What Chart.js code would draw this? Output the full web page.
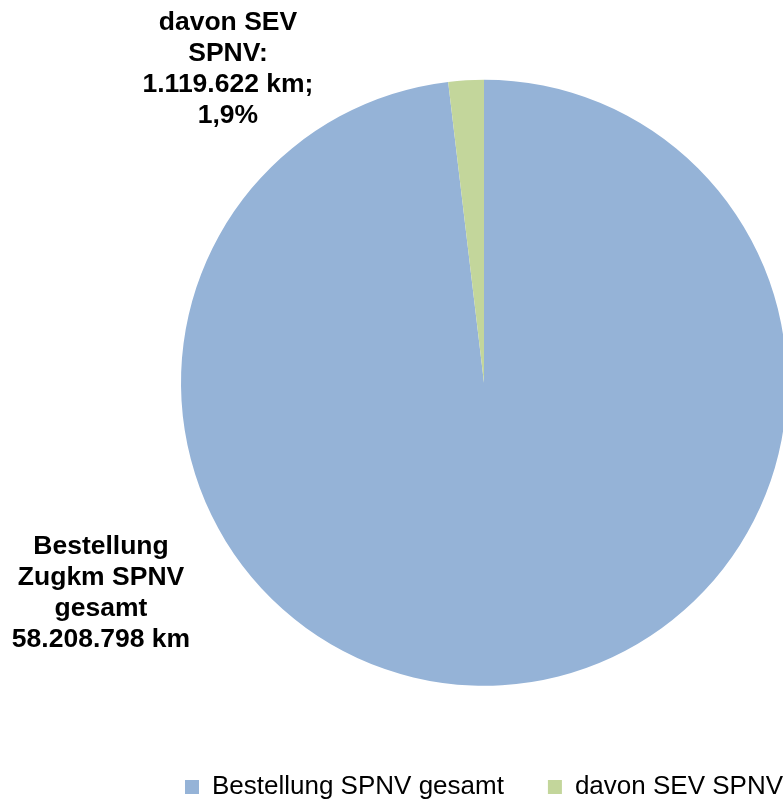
<!DOCTYPE html>
<html>
<head>
<meta charset="utf-8">
<title>Zugkm SPNV</title>
<style>
  html, body { margin: 0; padding: 0; background: #fff; overflow: hidden; }
  #wrap { width: 968px; height: 810px; position: relative; }
</style>
</head>
<body>
<div id="wrap"><canvas id="myChart"></canvas></div>

<script src="https://cdn.jsdelivr.net/npm/chart.js"></script>
<script>
const categories = ['Bestellung SPNV gesamt', 'davon SEV SPNV'];
const labelTitles = [['Bestellung', 'Zugkm SPNV', 'gesamt'], ['davon SEV', 'SPNV:']];
const values = [58208798, 1119622];
const showPercent = [false, true];
const colors = ['#95b3d7', '#c3d69b'];

// where the slice labels sit, relative to the pie centre in units of radius
const labelOffsets = [
    { dx: -1.264, dy: 0.693 },
    { dx: -0.845, dy: -1.036 }
];

const total = values.reduce((a, b) => a + b, 0);

function labelLines(i) {
    const km = values[i].toLocaleString('de-DE') + ' km';
    if (showPercent[i]) {
        const pct = (values[i] / total * 100).toLocaleString('de-DE', { minimumFractionDigits: 1, maximumFractionDigits: 1 }) + '%';
        return [...labelTitles[i], km + ';', pct];
    }
    return [...labelTitles[i], km];
}

const sliceLabels = {
    id: 'sliceLabels',
    afterDatasetsDraw(chart) {
        const ctx = chart.ctx;
        const meta = chart.getDatasetMeta(0);
        ctx.save();
        ctx.font = 'bold 26.5px "Liberation Sans", Arial, sans-serif';
        ctx.fillStyle = '#000';
        ctx.textAlign = 'center';
        ctx.textBaseline = 'middle';
        meta.data.forEach((arc, i) => {
            const { x, y, outerRadius } = arc.getProps(['x', 'y', 'outerRadius'], true);
            const cx = x + labelOffsets[i].dx * outerRadius;
            const cy = y + labelOffsets[i].dy * outerRadius;
            const lines = labelLines(i);
            const lh = 31;
            const y0 = cy - (lines.length - 1) * lh / 2;
            lines.forEach((line, j) => ctx.fillText(line, cx, y0 + j * lh));
        });
        ctx.restore();
    }
};

new Chart(document.getElementById('myChart'), {
    type: 'pie',
    data: {
        labels: categories,
        datasets: [{
            data: values,
            backgroundColor: colors,
            borderWidth: 0,
            radius: 303
        }]
    },
    options: {
        responsive: true,
        maintainAspectRatio: false,
        animation: false,
        layout: { padding: { top: 35.5, bottom: 0 } },
        plugins: {
            tooltip: { enabled: false },
            legend: {
                position: 'bottom',
                labels: {
                    boxWidth: 14,
                    boxHeight: 14,
                    padding: 44,
                    color: '#000',
                    font: { size: 26, family: '"Liberation Sans", Arial, sans-serif' }
                }
            }
        }
    },
    plugins: [sliceLabels]
});
</script>
</body>
</html>
